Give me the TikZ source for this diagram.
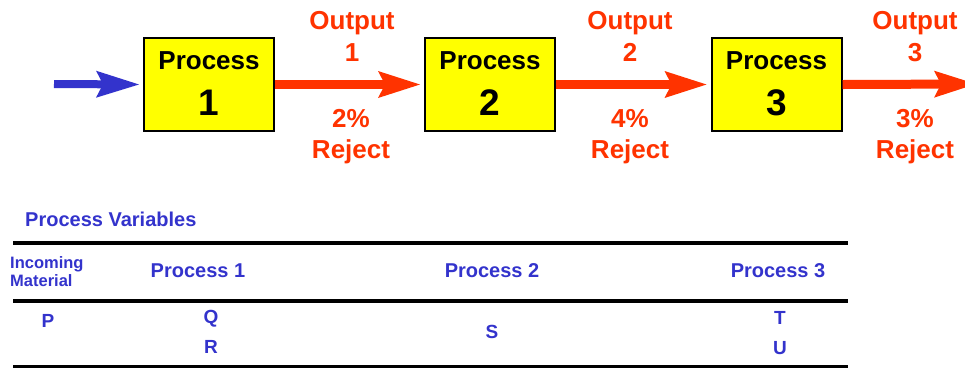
\documentclass[tikz,border=0pt]{standalone}
\usepackage{fontspec}
\setmainfont{Liberation Sans}
\usepackage{tikz}
\usetikzlibrary{arrows.meta}
\usepackage{xcolor}

\definecolor{procblue}{RGB}{51,51,204}
\definecolor{outred}{RGB}{255,51,0}
\definecolor{boxyellow}{RGB}{255,255,0}

\begin{document}
\begin{tikzpicture} [x=1pt, y=-1pt,
		procbox/.style={draw=black, line width=2pt, fill=boxyellow, minimum width=130pt, minimum height=93pt, inner sep=0pt},
		boxword/.style={anchor=base, inner sep=0pt, font=\fontsize{26}{30}\selectfont\bfseries},
		boxnum/.style={anchor=base, inner sep=0pt, font=\fontsize{37}{40}\selectfont\bfseries},
		redlabel/.style={anchor=base, inner sep=0pt, text=outred, font=\fontsize{26}{30}\selectfont\bfseries},
		redflow/.style={draw=outred, line width=9pt, -{Stealth[length=42pt, width=27pt, inset=7pt, line width=0pt]}},
		blueflow/.style={draw=procblue, line width=8pt, -{Stealth[length=43pt, width=27pt, inset=7pt, line width=0pt]}},
		tabhead/.style={anchor=base, inner sep=0pt, text=procblue, font=\fontsize{20}{24}\selectfont\bfseries},
		tabtext/.style={anchor=base, inner sep=0pt, text=procblue, font=\fontsize{19}{22}\selectfont\bfseries},
		tablerule/.style={draw=black, line width=3.5pt}]

						\useasboundingbox (0,0) rectangle (965,368);
						\clip (0,0) rectangle (965,368);

						\node [procbox] (p1) at (209,84.5) {};
						\node [procbox] (p2) at (490,84.5) {};
						\node [procbox] (p3) at (776.5,84.5) {};

						\node [boxword] (p1word) at (p1.center |- 0,69.5) {Process};
						\node [boxnum] (p1num) at (p1.center |- 0,115) {1};
						\node [boxword] (p2word) at (p2.center |- 0,69.5) {Process};
						\node [boxnum] (p2num) at (p2.center |- 0,115) {2};
						\node [boxword] (p3word) at (p3.center |- 0,69.5) {Process};
						\node [boxnum] (p3num) at (p3.center |- 0,115) {3};

						\coordinate (feed) at (54,84);
						\coordinate (out3) at (976,84);

						\draw [blueflow, shorten >=4pt] (feed) -- (p1.west);
						\draw [redflow, shorten >=4pt] (p1.east) -- (p2.west);
						\draw [redflow, shorten >=4pt] (p2.east) -- (p3.west);
						\draw [redflow] (p3.east) -- (out3);

						\node [redlabel] (out1a) at (352,29) {Output};
						\node [redlabel] (out1b) at (352,61) {1};
						\node [redlabel] (rej1a) at (351,127) {2\%};
						\node [redlabel] (rej1b) at (351,158) {Reject};

						\node [redlabel] (out2a) at (630,29) {Output};
						\node [redlabel] (out2b) at (630,61) {2};
						\node [redlabel] (rej2a) at (630,127) {4\%};
						\node [redlabel] (rej2b) at (630,158) {Reject};

						\node [redlabel] (out3a) at (915,29) {Output};
						\node [redlabel] (out3b) at (915,61) {3};
						\node [redlabel] (rej3a) at (915,127) {3\%};
						\node [redlabel] (rej3b) at (915,158) {Reject};

						\node [tabhead, anchor=base west] (pvars) at (25,226) {Process Variables};

						\draw [tablerule] (13,243) -- (848,243);

						\node [anchor=north west, align=left, inner sep=0pt, text=procblue, font=\fontsize{16.5}{18}\selectfont\bfseries] (incoming) at (10,256.5) {Incoming\\Material};
						\node [tabhead] (head1) at (198,277) {Process 1};
						\node [tabhead] (head2) at (492,277) {Process 2};
						\node [tabhead] (head3) at (778,277) {Process 3};

						\draw [tablerule] (13,301) -- (848,301);

						\node [tabtext] (varp) at (48,327) {P};
						\node [tabtext] (varq) at (211,323) {Q};
						\node [tabtext] (varr) at (211,353) {R};
						\node [tabtext] (vars) at (492,338) {S};
						\node [tabtext] (vart) at (780,324) {T};
						\node [tabtext] (varu) at (780,354) {U};

						\draw [tablerule] (13,366.5) -- (848,366.5);

					\end{tikzpicture}
\end{document}
